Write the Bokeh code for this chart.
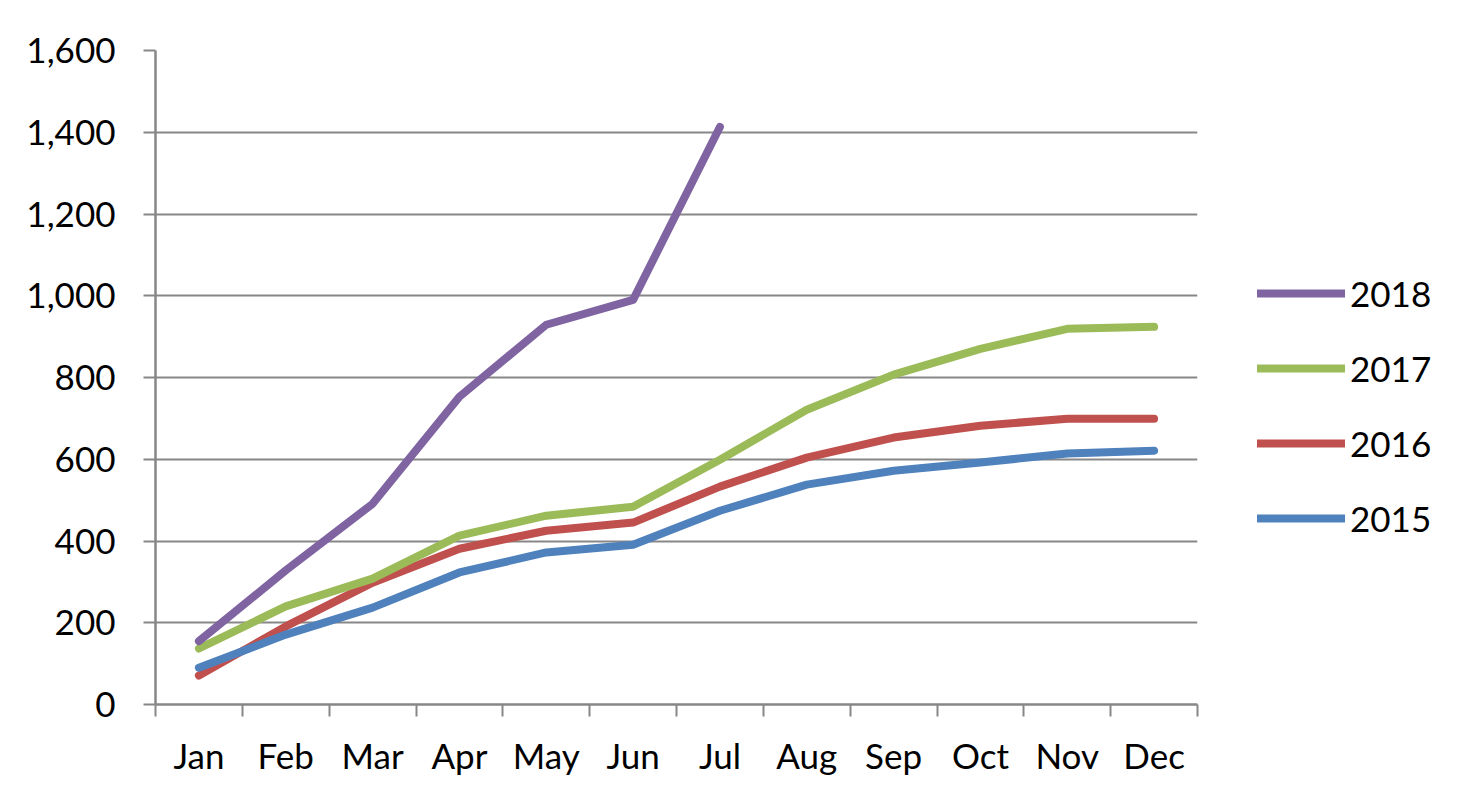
from bokeh.plotting import figure
from bokeh.models import Range1d, FixedTicker, NumeralTickFormatter, Legend, LegendItem
from bokeh.embed import file_html
from bokeh.resources import INLINE

months = ["Jan", "Feb", "Mar", "Apr", "May", "Jun", "Jul", "Aug", "Sep", "Oct", "Nov", "Dec"]
y2018 = [155, 328, 491, 753, 929, 990, 1413]
y2017 = [137, 240, 308, 413, 462, 484, 599, 721, 807, 870, 919, 924]
y2016 = [71, 191, 298, 381, 425, 445, 533, 604, 653, 682, 699, 699]
y2015 = [90, 171, 237, 323, 372, 391, 474, 538, 572, 592, 614, 621]
y_ticks = [0, 200, 400, 600, 800, 1000, 1200, 1400, 1600]

colors = {"2018": "#8064A2", "2017": "#9BBB59", "2016": "#C0504D", "2015": "#4F81BD"}
FONT = "Lato"
GRAY = "#878787"

centers = [i + 0.5 for i in range(len(months))]
bounds = list(range(len(months) + 1))

p = figure(frame_width=1042, frame_height=654, output_backend="svg", toolbar_location=None,
           x_range=Range1d(0, len(months)), y_range=Range1d(0, 1600),
           min_border_left=155, min_border_right=0, min_border_top=50, min_border_bottom=86)
p.outline_line_color = None
p.background_fill_color = "white"
p.border_fill_color = "white"

rend = {}
for name, vals in [("2016", y2016), ("2015", y2015), ("2017", y2017), ("2018", y2018)]:
    rend[name] = p.line(centers[:len(vals)], vals, line_color=colors[name], line_width=8,
                        line_cap="round", line_join="round")

# axes
p.xaxis.ticker = FixedTicker(ticks=centers, minor_ticks=bounds)
p.xaxis.major_label_overrides = {c: m for c, m in zip(centers, months)}
p.xaxis.major_tick_out = 0
p.xaxis.major_tick_in = 0
p.xaxis.minor_tick_out = 12
p.xaxis.minor_tick_in = 0
p.xaxis.minor_tick_line_color = GRAY
p.xaxis.minor_tick_line_width = 2
p.xaxis.major_label_standoff = 17

p.yaxis.ticker = FixedTicker(ticks=y_ticks)
p.yaxis.formatter = NumeralTickFormatter(format="0,0")
p.yaxis.major_tick_out = 12
p.yaxis.major_tick_in = 0
p.yaxis.minor_tick_out = 0
p.yaxis.minor_tick_in = 0
p.yaxis.major_label_standoff = 28

for ax in (p.xaxis, p.yaxis):
    ax.axis_line_color = GRAY
    ax.axis_line_width = 2.5
    ax.major_tick_line_color = GRAY
    ax.major_tick_line_width = 2
    ax.major_label_text_font = FONT
    ax.major_label_text_font_size = "35px"
    ax.major_label_text_color = "black"

p.xgrid.visible = False
p.ygrid.ticker = FixedTicker(ticks=y_ticks)
p.ygrid.grid_line_color = GRAY
p.ygrid.grid_line_width = 2

legend = Legend(items=[LegendItem(label=n, renderers=[rend[n]]) for n in ["2018", "2017", "2016", "2015"]],
                location=(60, 165), orientation="vertical",
                glyph_width=88, glyph_height=42, label_height=42, spacing=33,
                label_standoff=5, padding=0, margin=0,
                label_text_font=FONT, label_text_font_size="35px", label_text_color="black",
                border_line_color=None, background_fill_alpha=0)
p.add_layout(legend, "right")

open("out.html", "w").write(file_html(p, INLINE))
